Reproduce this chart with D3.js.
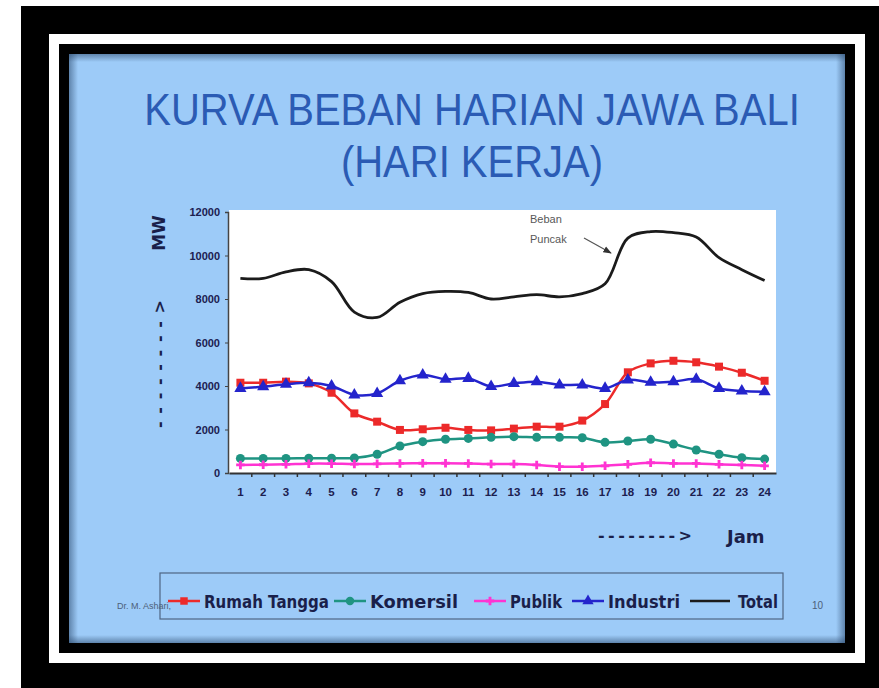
<html>
	<head>
		<meta http-equiv="Content-Type" content="text/html; charset=utf-8">
		<title>Kurva Beban Harian Jawa Bali</title>
		<style type="text/css">
			body { margin: 0; background: #ffffff; }
			svg { display: block; }
			.tick text { font-family: "Liberation Sans", Arial, sans-serif; font-weight: bold; fill: #1c2050; }
			.hand { font-family: "Comic Sans MS", "DejaVu Sans", sans-serif; font-weight: bold; fill: #1a1f4a; }
		</style>
		<script src="https://d3js.org/d3.v7.min.js" charset="utf-8"></script>
	</head>
	<body>
		<svg id="slide" width="879" height="688"></svg>

		<script type="text/javascript">

			// data (MW per hour)
			var hours = d3.range(1, 25);
			var rumahTangga = [4150, 4150, 4200, 4120, 3690, 2740, 2360, 1980, 2010, 2080, 1980, 1960,
				2040, 2130, 2130, 2410, 3170, 4630, 5040, 5160, 5090, 4890, 4610, 4240];
			var komersil = [670, 670, 670, 680, 680, 690, 860, 1240, 1440, 1550, 1590, 1640,
				1670, 1640, 1640, 1620, 1410, 1470, 1550, 1330, 1060, 860, 700, 640];
			var publik = [370, 380, 400, 430, 430, 410, 420, 440, 450, 450, 440, 410,
				410, 370, 290, 290, 330, 400, 470, 440, 440, 400, 370, 330];
			var industri = [3890, 3970, 4080, 4150, 4000, 3590, 3660, 4240, 4510, 4310, 4350, 3980,
				4120, 4200, 4050, 4050, 3890, 4280, 4170, 4200, 4310, 3890, 3770, 3740];
			var total = [8950, 8950, 9250, 9350, 8800, 7400, 7150, 7850, 8250, 8350, 8300, 8000,
				8100, 8200, 8100, 8250, 8700, 10800, 11100, 11050, 10850, 9900, 9350, 8850];
			var yTicks = [0, 2000, 4000, 6000, 8000, 10000, 12000];

			var series = [
				{name: "Rumah Tangga", values: rumahTangga, color: "#ec2a2a", marker: "square"},
				{name: "Komersil", values: komersil, color: "#1f9482", marker: "circle"},
				{name: "Publik", values: publik, color: "#ff33d2", marker: "plus"},
				{name: "Industri", values: industri, color: "#2424cc", marker: "triangle"},
				{name: "Total", values: total, color: "#1b1b1b", marker: null}
			];

			var svg = d3.select("#slide");

			// frame: black mat, white border, black line, blue slide
			svg.append("rect").attr("x", 21).attr("y", 6).attr("width", 858).attr("height", 682).attr("fill", "#000");
			svg.append("rect").attr("x", 49).attr("y", 34).attr("width", 816).attr("height", 629).attr("fill", "#fff");
			svg.append("rect").attr("x", 59).attr("y", 44).attr("width", 796).attr("height", 609).attr("fill", "#000");
			svg.append("rect").attr("x", 69).attr("y", 54).attr("width", 776).attr("height", 589).attr("fill", "#9dcbf8");

			// soft shading on the slide edges
			var defs = svg.append("defs");
			[["shadeL", 0, 0, 1, 0], ["shadeT", 0, 0, 0, 1], ["shadeR", 1, 0, 0, 0], ["shadeB", 0, 1, 0, 0]].forEach(function(g) {
				var lg = defs.append("linearGradient").attr("id", g[0])
					.attr("x1", g[1]).attr("y1", g[2]).attr("x2", g[3]).attr("y2", g[4]);
				lg.append("stop").attr("offset", 0).attr("stop-color", "#2c4a6e").attr("stop-opacity", 0.55);
				lg.append("stop").attr("offset", 1).attr("stop-color", "#2c4a6e").attr("stop-opacity", 0);
			});
			svg.append("rect").attr("x", 69).attr("y", 54).attr("width", 9).attr("height", 589).attr("fill", "url(#shadeL)");
			svg.append("rect").attr("x", 69).attr("y", 54).attr("width", 776).attr("height", 8).attr("fill", "url(#shadeT)");
			svg.append("rect").attr("x", 836).attr("y", 54).attr("width", 9).attr("height", 589).attr("fill", "url(#shadeR)");
			svg.append("rect").attr("x", 69).attr("y", 635).attr("width", 776).attr("height", 8).attr("fill", "url(#shadeB)");

			// title (a little taller than plain Arial, like the slide)
			svg.append("text").attr("transform", "translate(472,125) scale(1,1.12)").attr("text-anchor", "middle")
				.style("font-family", "'Liberation Sans', Arial, sans-serif").style("font-size", "40px").attr("fill", "#2b5bb4")
				.text("KURVA BEBAN HARIAN JAWA BALI");
			svg.append("text").attr("transform", "translate(472,177) scale(1,1.12)").attr("text-anchor", "middle")
				.style("font-family", "'Liberation Sans', Arial, sans-serif").style("font-size", "40px").attr("fill", "#2b5bb4")
				.text("(HARI KERJA)");

			// chart
			var xScale = d3.scaleBand().domain(hours).range([229, 776]);
			var yScale = d3.scaleLinear().domain([0, 12000]).range([473, 212]);
			var cx = function(i) { return xScale(hours[i]) + xScale.bandwidth() / 2; };

			svg.append("rect").attr("x", 229).attr("y", 210).attr("width", 547).attr("height", 263).attr("fill", "#fff");

			var yAxis = svg.append("g").attr("transform", "translate(228,0)")
				.call(d3.axisLeft(yScale).tickValues(yTicks).tickSize(3).tickPadding(5).tickFormat(d3.format("d")));
			yAxis.selectAll("text").style("font-size", "11px");
			yAxis.select(".domain").attr("stroke", "#444").attr("stroke-width", 1.5);
			yAxis.selectAll(".tick line").attr("stroke", "#444");

			var xAxis = svg.append("g").attr("transform", "translate(0,473)")
				.call(d3.axisBottom(xScale).tickSize(0).tickPadding(15));
			xAxis.selectAll("text").style("font-size", "11.5px");
			xAxis.select(".domain").attr("stroke", "#333").attr("stroke-width", 2);
			xAxis.selectAll(".bound").data(hours.slice(1)).enter().append("line")
				.attr("x1", function(d) { return xScale(d); }).attr("x2", function(d) { return xScale(d); })
				.attr("y1", 0).attr("y2", 4).attr("stroke", "#333").attr("stroke-width", 1.5);

			var line = d3.line()
				.x(function(d, i) { return cx(i); })
				.y(function(d) { return yScale(d); })
				.curve(d3.curveCatmullRom.alpha(0.5));

			var markerPath = function(type, size) {
				if (type == "square") return d3.symbol(d3.symbolSquare, size)();
				if (type == "circle") return d3.symbol(d3.symbolCircle, size)();
				if (type == "triangle") return d3.symbol(d3.symbolTriangle, size)();
				return d3.symbol(d3.symbolCross, size)();
			};

			var plot = svg.append("g");
			series.forEach(function(s) {
				plot.append("path").datum(s.values)
					.attr("d", line).attr("fill", "none").attr("stroke", s.color)
					.attr("stroke-width", s.marker ? 2.5 : 2.8);
				if (s.marker) {
					plot.selectAll(".m-" + s.marker).data(s.values).enter().append("path")
						.attr("class", "m-" + s.marker)
						.attr("transform", function(d, i) { return "translate(" + cx(i) + "," + yScale(d) + ")"; })
						.attr("d", markerPath(s.marker, s.marker == "plus" ? 40 : 64))
						.attr("fill", s.color);
				}
			});

			// peak annotation
			svg.append("text").attr("x", 530).attr("y", 223).attr("fill", "#585858")
				.style("font-family", "'Liberation Sans', Arial, sans-serif").style("font-size", "11px").text("Beban");
			svg.append("text").attr("x", 530).attr("y", 243).attr("fill", "#585858")
				.style("font-family", "'Liberation Sans', Arial, sans-serif").style("font-size", "11px").text("Puncak");
			defs.append("marker").attr("id", "arrow").attr("viewBox", "0 0 10 10").attr("refX", 9).attr("refY", 5)
				.attr("markerWidth", 7).attr("markerHeight", 7).attr("orient", "auto")
				.append("path").attr("d", "M0,1L10,5L0,9Z").attr("fill", "#333");
			svg.append("line").attr("x1", 584).attr("y1", 238).attr("x2", 611).attr("y2", 253)
				.attr("stroke", "#555").attr("stroke-width", 1.2).attr("marker-end", "url(#arrow)");

			// axis titles
			svg.append("text").attr("class", "hand").attr("transform", "translate(165,233) rotate(-90)")
				.attr("text-anchor", "middle").style("font-size", "17px").text("MW");
			svg.append("text").attr("class", "hand").attr("transform", "translate(165,428) rotate(-90)")
				.attr("textLength", 128).attr("lengthAdjust", "spacing")
				.style("font-size", "16px").text("-------->");
			svg.append("text").attr("class", "hand").attr("x", 598).attr("y", 541)
				.attr("textLength", 94).attr("lengthAdjust", "spacing")
				.style("font-size", "16px").text("-------->");
			svg.append("text").attr("class", "hand").attr("x", 727).attr("y", 543)
				.style("font-size", "18px").text("Jam");

			// footer
			svg.append("text").attr("x", 117).attr("y", 609).attr("fill", "#4d5f78")
				.style("font-family", "'Liberation Sans', Arial, sans-serif").style("font-size", "9px").text("Dr. M. Ashari,");
			svg.append("text").attr("x", 812).attr("y", 609).attr("fill", "#4d5f78")
				.style("font-family", "'Liberation Sans', Arial, sans-serif").style("font-size", "10px").text("10");

			// legend
			var legendX = [168, 334, 474, 572, 690];
			var legendW = [125, 88, 52, 72, 40];
			svg.append("rect").attr("x", 160).attr("y", 573).attr("width", 623).attr("height", 46)
				.attr("fill", "none").attr("stroke", "#4f6684").attr("stroke-width", 1.2);
			var item = svg.selectAll(".legend").data(series).enter().append("g")
				.attr("class", "legend")
				.attr("transform", function(d, i) { return "translate(" + legendX[i] + ",601)"; });
			item.append("line").attr("x1", 0).attr("x2", function(d) { return d.marker ? 32 : 40; })
				.attr("stroke", function(d) { return d.color; }).attr("stroke-width", 2.5);
			item.filter(function(d) { return d.marker; }).append("path")
				.attr("transform", "translate(16,0)")
				.attr("d", function(d) { return markerPath(d.marker, d.marker == "plus" ? 40 : 56); })
				.attr("fill", function(d) { return d.color; });
			item.append("text").attr("class", "hand")
				.attr("x", function(d) { return d.marker ? 36 : 48; }).attr("y", 7)
				.style("font-size", "18px")
				.attr("textLength", function(d, i) { return legendW[i]; })
				.attr("lengthAdjust", "spacingAndGlyphs")
				.text(function(d) { return d.name; });

		</script>
	</body>
</html>
